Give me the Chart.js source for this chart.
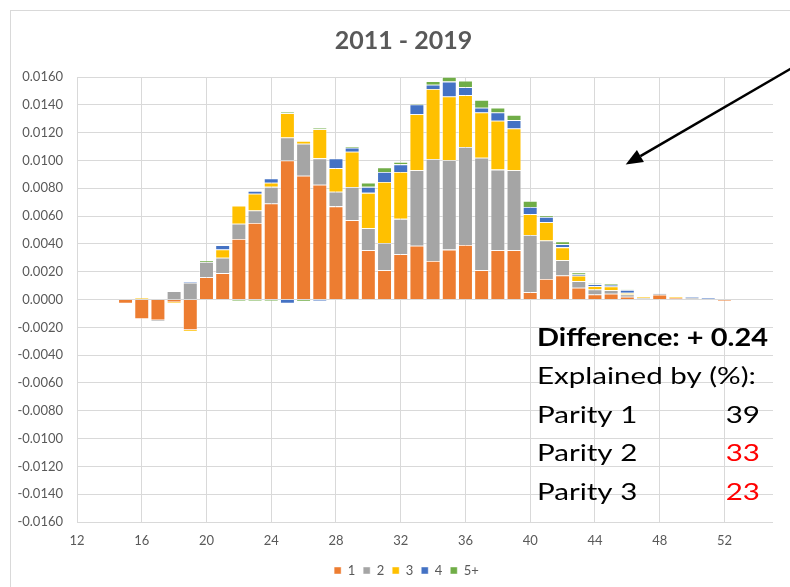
<!DOCTYPE html>
<html>
<head>
<meta charset="utf-8">
<script src="https://cdn.jsdelivr.net/npm/chart.js@4.4.1/dist/chart.umd.min.js"></script>
<style>
  html, body { margin: 0; padding: 0; background: #fff; }
  #wrap { width: 790px; height: 587px; }
</style>
</head>
<body>
<div id="wrap"><canvas id="c" width="790" height="587"></canvas></div>
<script>
// Age categories (x values)
const ages = [15,16,17,18,19,20,21,22,23,24,25,26,27,28,29,30,31,32,33,34,35,36,37,38,39,40,41,42,43,44,45,46,47,48,49,50,51,52,53,54];

// Contribution by parity
const parity1 = [-0.0003,-0.0014,-0.0015,-0.0002,-0.0022,0.0016,0.0019,0.00435,0.0055,0.0069,0.0100,0.0089,0.00825,0.0067,0.0057,0.00354,0.0021,0.00325,0.00387,0.00277,0.00359,0.00392,0.0021,0.00354,0.00354,0.00053,0.00147,0.00173,0.00084,0.00036,0.00041,0.0002,0.00005,0.00035,0.0001,0,0,-0.0001,0,0];
const parity2 = [0,0,-0.0001,0.0006,0.0012,0.0011,0.0011,0.0011,0.0009,0.0012,0.00165,0.0023,0.0019,0.00105,0.00239,0.00159,0.00197,0.00255,0.00542,0.00733,0.00642,0.00705,0.0081,0.0058,0.00575,0.00411,0.00277,0.00109,0.00048,0.00036,0.00026,0.00016,0.00008,0.0001,0,0.0001,0,0,0,0];
const parity3 = [0,0.0001,0,-0.0001,-0.00008,0,0.0006,0.0013,0.0012,0.0003,0.00175,0.0002,0.0021,0.0017,0.00254,0.00254,0.00438,0.00337,0.00404,0.00504,0.00459,0.00373,0.00325,0.00351,0.00301,0.0015,0.00132,0.00093,0.00039,0.00024,0.00027,0.00012,0.0001,0,0.0001,0,0,0,0,0.00003];
const parity4 = [0,0,0,0,0.00007,0,0.0003,0,0.0002,0.0003,-0.0003,0,-0.0001,0.0007,0.00029,0.00043,0.00072,0.00055,0.0007,0.00031,0.00107,0.00056,0.00034,0.0006,0.0006,0.00052,0.00038,0.00022,0.00009,0.00014,0.00012,0.0002,0,0.00005,0,0.00007,0.0001,0,0,0];
const parity5 = [0,0,0,0,0,0.0001,0,-0.0001,-0.0001,-0.0001,0.0001,-0.00015,0.0001,-0.00005,0.00008,0.0003,0.00033,0.00018,0.00007,0.00025,0.00033,0.00048,0.00056,0.00035,0.00038,0.00042,0.0001,0.0002,0.00015,0.00006,0.00012,0.00003,0.00002,0,0,0,0,0,0,0];

const seriesNames = ['1','2','3','4','5+'];
const seriesColors = ['#ED7D31','#A5A5A5','#FFC000','#4472C4','#70AD47'];
const xTicks = [12,16,20,24,28,32,36,40,44,48,52];

const titleText = '2011 - 2019';
const noteLines = [
  {left: 'Difference: + 0.24', right: '', bold: true, color: '#000000'},
  {left: 'Explained by (%):', right: '', bold: false, color: '#000000'},
  {left: 'Parity 1', right: '39', bold: false, color: '#000000'},
  {left: 'Parity 2', right: '33', bold: false, color: '#FF0000'},
  {left: 'Parity 3', right: '23', bold: false, color: '#FF0000'}
];
// arrow in data coordinates (start -> tip)
const arrowFrom = {x: 56.1, y: 0.0166};
const arrowTo = {x: 45.9, y: 0.0097};

const FONT = 'Lato, "Open Sans", "DejaVu Sans", sans-serif';
const TXT = '#595959';

const seriesData = [parity1, parity2, parity3, parity4, parity5];
const datasets = seriesData.map((d, i) => ({
  label: seriesNames[i],
  data: d,
  backgroundColor: seriesColors[i],
  borderColor: 'rgba(255,255,255,0.55)',
  borderWidth: 0.8,
  barPercentage: 0.9,
  categoryPercentage: 1.0,
  stack: 's'
}));

const framePlugin = {
  id: 'frame',
  afterLayout(chart) {
    // centre title and legend on the chart frame (which starts at x = 10)
    if (chart.titleBlock) { chart.titleBlock.left += 34; }
    if (chart.legend) { chart.legend.left += 34; chart.legend.right += 6; }
  },
  beforeDraw(chart) {
    const ctx = chart.ctx;
    ctx.save();
    ctx.fillStyle = '#fff';
    ctx.fillRect(0, 0, chart.width, chart.height);
    ctx.strokeStyle = '#D9D9D9';
    ctx.lineWidth = 1;
    ctx.strokeRect(10.5, 10.5, 1000, 1000);
    ctx.restore();
  }
};

function drawStretched(ctx, text, x, y, sx, align) {
  const w = ctx.measureText(text).width * sx;
  ctx.save();
  ctx.translate(align === 'right' ? x - w : x, y);
  ctx.scale(sx, 1);
  ctx.textAlign = 'left';
  ctx.fillText(text, 0, 0);
  ctx.restore();
}

const notePlugin = {
  id: 'note',
  afterDraw(chart) {
    const ctx = chart.ctx;
    const xs = chart.scales.x, ys = chart.scales.y;
    ctx.save();
    // arrow
    const x1 = xs.getPixelForValue(arrowFrom.x), y1 = ys.getPixelForValue(arrowFrom.y);
    const x2 = xs.getPixelForValue(arrowTo.x), y2 = ys.getPixelForValue(arrowTo.y);
    const ang = Math.atan2(y2 - y1, x2 - x1);
    const headLen = 17, headW = 7;
    const bx = x2 - headLen * Math.cos(ang), by = y2 - headLen * Math.sin(ang);
    ctx.strokeStyle = '#000';
    ctx.lineWidth = 2.5;
    ctx.beginPath();
    ctx.moveTo(x1, y1);
    ctx.lineTo(bx, by);
    ctx.stroke();
    ctx.fillStyle = '#000';
    ctx.beginPath();
    ctx.moveTo(x2, y2);
    ctx.lineTo(bx + headW * Math.sin(ang), by - headW * Math.cos(ang));
    ctx.lineTo(bx - headW * Math.sin(ang), by + headW * Math.cos(ang));
    ctx.closePath();
    ctx.fill();
    // text block
    const left = 537, right = 760, baseline0 = 346, step = 38.4;
    ctx.textBaseline = 'alphabetic';
    ctx.font = '24px ' + FONT;
    const sxReg = 219 / ctx.measureText(noteLines[1].left).width;
    ctx.font = 'bold 24px ' + FONT;
    const sxBold = 231 / ctx.measureText(noteLines[0].left).width;
    noteLines.forEach((ln, i) => {
      const y = baseline0 + i * step;
      ctx.font = (ln.bold ? 'bold ' : '') + '24px ' + FONT;
      const sx = ln.bold ? sxBold : sxReg;
      ctx.fillStyle = '#000';
      drawStretched(ctx, ln.left, left, y, sx, 'left');
      if (ln.right) {
        ctx.fillStyle = ln.color;
        drawStretched(ctx, ln.right, right, y, sx, 'right');
      }
    });
    ctx.restore();
  }
};

new Chart(document.getElementById('c'), {
  type: 'bar',
  data: { labels: ages, datasets },
  options: {
    responsive: false,
    animation: false,
    layout: { padding: { left: 0, right: 17, top: 0, bottom: 0 } },
    plugins: {
      title: {
        display: true,
        text: titleText,
        color: TXT,
        font: { family: FONT, size: 25, weight: 'bold' },
        padding: { top: 26, bottom: 21 }
      },
      legend: {
        position: 'bottom',
        labels: {
          color: TXT,
          font: { family: FONT, size: 13 },
          boxWidth: 7,
          boxHeight: 7,
          padding: 8
        }
      },
      tooltip: { enabled: false }
    },
    scales: {
      x: {
        type: 'linear',
        min: 12,
        max: 55,
        stacked: true,
        offset: false,
        afterBuildTicks(s) { s.ticks = xTicks.map(v => ({ value: v })); },
        afterFit(s) { s.height = 34; },
        ticks: {
          color: TXT,
          font: { family: FONT, size: 13 },
          padding: 11,
          maxRotation: 0,
          autoSkip: false,
          callback: v => String(v)
        },
        grid: { color: '#D9D9D9', lineWidth: 1, drawTicks: false, offset: false },
        border: { display: false }
      },
      y: {
        min: -0.016,
        max: 0.016,
        stacked: true,
        afterFit(s) { s.width = 77; },
        ticks: {
          stepSize: 0.002,
          color: TXT,
          font: { family: FONT, size: 13 },
          padding: 14,
          callback: v => Number(v).toFixed(4)
        },
        grid: { color: '#D9D9D9', lineWidth: 1, drawTicks: false },
        border: { display: false }
      }
    }
  },
  plugins: [framePlugin, notePlugin]
});
</script>
</body>
</html>
